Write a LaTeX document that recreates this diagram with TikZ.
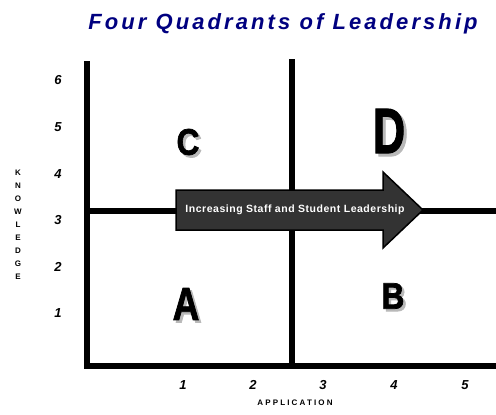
\documentclass[tikz,border=0pt]{standalone}
\usepackage{fontspec}
\setmainfont{Liberation Sans}
\usepackage{xcolor}
\usetikzlibrary{calc}

\newfontfamily\titlefont[LetterSpace=14]{Liberation Sans}
\newfontfamily\axisfont[LetterSpace=27]{Liberation Sans}
\newfontfamily\arrowfont[LetterSpace=5]{Liberation Sans}
\newfontfamily\quadfont[FakeBold=2]{Liberation Sans Bold}

\definecolor{titleblue}{RGB}{0,0,128}
\definecolor{arrowgray}{RGB}{51,51,51}
\definecolor{shadowgray}{RGB}{185,185,185}

\tikzset{
  axisline/.style={line width=6pt,black},
  tick/.style={font=\fontsize{13}{15}\selectfont\bfseries\itshape,inner sep=0pt},
  axislabel/.style={font=\axisfont\fontsize{8}{9}\selectfont\bfseries,inner sep=0pt},
  quad/.style={font=\quadfont,inner sep=0pt},
  quadshadow/.style={quad,text=shadowgray},
  arrowbox/.style={draw=black,line width=1.5pt,fill=arrowgray,line join=miter}
}

\begin{document}
\begin{tikzpicture}[x=1pt,y=-1pt]
    \useasboundingbox (0,0) rectangle (496,415);

    \node[anchor=base,inner sep=0pt,text=titleblue,font=\titlefont\fontsize{22}{26}\selectfont\bfseries\itshape]
        (title) at (283,29) {Four Quadrants of Leadership};

    % grid lines
    \draw[axisline] (87,61) -- (87,366) -- (496,366);
    \draw[axisline] (292,59) -- (292,366);
    \draw[axisline] (87,211) -- (496,211);

    % arrow
    \draw[arrowbox] (176,190) -- (383,190) -- (383,172) -- (423,210)
        -- (383,248) -- (383,230) -- (176,230) -- cycle;
    \node[text=white,inner sep=0pt,font=\arrowfont\fontsize{10.5}{12}\selectfont\bfseries]
        (growth) at (295,210) {Increasing Staff and Student Leadership};

    % quadrants
    \node[quadshadow] (shadowC) at (190.5,144.5) {\fontsize{37}{40}\selectfont\scalebox{0.85}[1]{C}};
    \node[quad] (quadC) at (188,142) {\fontsize{37}{40}\selectfont\scalebox{0.85}[1]{C}};
    \node[quadshadow] (shadowD) at (392,134) {\fontsize{64}{70}\selectfont\scalebox{0.7}[1]{D}};
    \node[quad] (quadD) at (389,131) {\fontsize{64}{70}\selectfont\scalebox{0.7}[1]{D}};
    \node[quadshadow] (shadowA) at (188.5,306.5) {\fontsize{46}{50}\selectfont\scalebox{0.8}[1]{A}};
    \node[quad] (quadA) at (186,304) {\fontsize{46}{50}\selectfont\scalebox{0.8}[1]{A}};
    \node[quadshadow] (shadowB) at (395.5,298.5) {\fontsize{37}{40}\selectfont\scalebox{0.85}[1]{B}};
    \node[quad] (quadB) at (393,296) {\fontsize{37}{40}\selectfont\scalebox{0.85}[1]{B}};

    % knowledge axis
    \node[tick] (k6) at (58,80) {6};
    \node[tick] (k5) at (58,127) {5};
    \node[tick] (k4) at (58,174) {4};
    \node[tick] (k3) at (58,220) {3};
    \node[tick] (k2) at (58,267) {2};
    \node[tick] (k1) at (58,313) {1};
    \foreach \ch [count=\i] in {K,N,O,W,L,E,D,G,E}
        \node[font=\fontsize{8}{9}\selectfont\bfseries,inner sep=0pt] (know\i) at (18,160+13*\i) {\ch};

    % application axis
    \node[tick] (a1) at (183,385) {1};
    \node[tick] (a2) at (253,385) {2};
    \node[tick] (a3) at (323,385) {3};
    \node[tick] (a4) at (394,385) {4};
    \node[tick] (a5) at (465,385) {5};
    \node[axislabel] (application) at (295,403) {APPLICATION};
\end{tikzpicture}
\end{document}
